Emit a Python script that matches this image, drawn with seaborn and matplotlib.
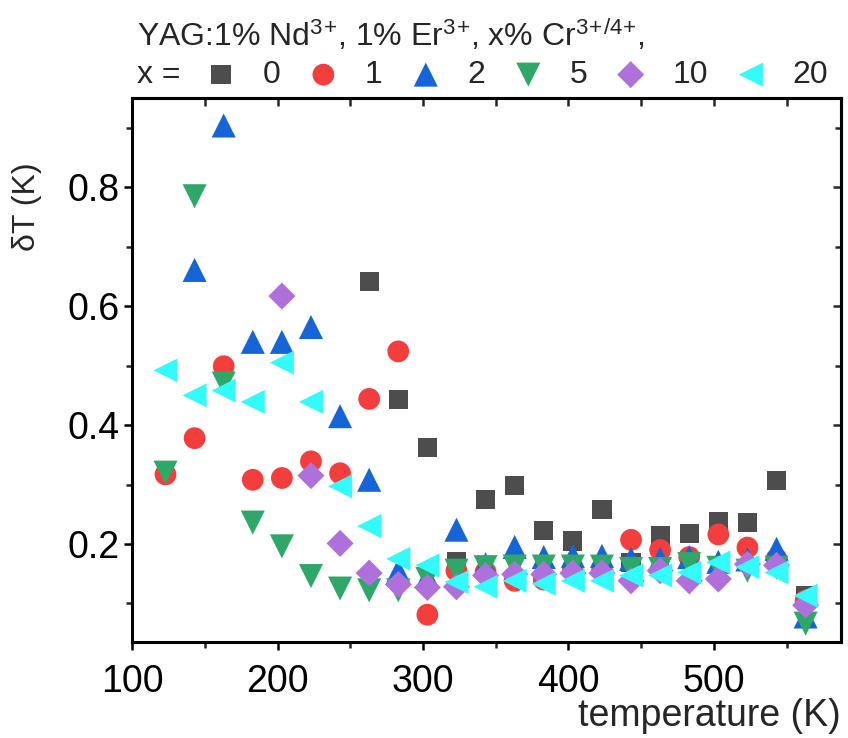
import matplotlib
matplotlib.use("Agg")
import matplotlib.pyplot as plt
from matplotlib.ticker import MultipleLocator
import seaborn as sns

# temperatures (K)
temp_all = [123, 143, 163, 183, 203, 223, 243, 263, 283, 303, 323, 343,
            363, 383, 403, 423, 443, 463, 483, 503, 523, 543, 563]
temp_0 = temp_all[7:]
temp_2 = temp_all[1:]
temp_10 = temp_all[4:]

# dT (K) per Cr content
dt_0 = [0.641, 0.443, 0.363, 0.170, 0.275, 0.299, 0.222, 0.205, 0.258, 0.169,
        0.214, 0.218, 0.237, 0.236, 0.307, 0.113]
dt_1 = [0.317, 0.378, 0.499, 0.308, 0.311, 0.339, 0.319, 0.444, 0.524, 0.081,
        0.155, 0.153, 0.138, 0.140, 0.155, 0.155, 0.207, 0.190, 0.178, 0.216,
        0.194, 0.175, 0.105]
dt_2 = [0.661, 0.904, 0.540, 0.540, 0.565, 0.415, 0.308, 0.155, 0.145, 0.224,
        0.166, 0.195, 0.178, 0.180, 0.180, 0.175, 0.175, 0.178, 0.170, 0.174,
        0.192, 0.078]
dt_5 = [0.320, 0.785, 0.470, 0.236, 0.196, 0.146, 0.125, 0.122, 0.122, 0.141,
        0.155, 0.161, 0.162, 0.162, 0.162, 0.162, 0.158, 0.158, 0.166, 0.160,
        0.155, 0.160, 0.066]
dt_10 = [0.617, 0.315, 0.201, 0.151, 0.132, 0.127, 0.128, 0.147, 0.149, 0.149,
         0.151, 0.151, 0.138, 0.155, 0.138, 0.141, 0.166, 0.164, 0.097]
dt_20 = [0.492, 0.450, 0.458, 0.439, 0.505, 0.439, 0.297, 0.230, 0.175, 0.164,
         0.136, 0.128, 0.138, 0.133, 0.138, 0.138, 0.147, 0.147, 0.152, 0.169,
         0.161, 0.152, 0.113]

labels = ["0", "1", "2", "5", "10", "20"]

sns.set_style("ticks")
plt.rcParams['font.family'] = ['Liberation Sans', 'DejaVu Sans']
plt.rcParams['mathtext.fontset'] = 'custom'
plt.rcParams['mathtext.rm'] = 'Liberation Sans'
plt.rcParams['mathtext.it'] = 'Liberation Sans'

fig = plt.figure(figsize=(8.48, 7.38), dpi=100)
ax = fig.add_axes([0.1557, 0.130, 0.8355, 0.737])

series = [
    (temp_0, dt_0, 's', '#4d4d4d', 190),
    (temp_all, dt_1, 'o', '#f43d3d', 245),
    (temp_2, dt_2, '^', '#1565d8', 300),
    (temp_all, dt_5, 'v', '#2ea868', 300),
    (temp_10, dt_10, 'D', '#b070dc', 190),
    (temp_all, dt_20, '<', '#33fbfb', 300),
]
for (tx, ty, mk, col, sz), lab in zip(series, labels):
    sns.scatterplot(x=tx, y=ty, marker=mk, color=col, s=sz, linewidth=0,
                    edgecolor='none', label=lab, ax=ax, zorder=3)

ax.set_xlim(100, 587)
ax.set_ylim(0.035, 0.95)
ax.xaxis.set_major_locator(MultipleLocator(100))
ax.xaxis.set_minor_locator(MultipleLocator(50))
ax.yaxis.set_minor_locator(MultipleLocator(0.1))
ax.set_yticks([0.2, 0.4, 0.6, 0.8])
ax.set_yticklabels(["0.2", "0.4", "0.6", "0.8"])

for sp in ax.spines.values():
    sp.set_linewidth(2.2)
    sp.set_color('black')
ax.tick_params(which='major', direction='out', length=6, width=1.8,
               labelsize=27, colors='black')
ax.tick_params(which='minor', direction='out', length=4, width=1.8)
ax.tick_params(axis='x', which='major', pad=10)
ax.tick_params(axis='y', which='major', pad=3)

top = ax.secondary_xaxis('top')
top.xaxis.set_major_locator(MultipleLocator(100))
top.xaxis.set_minor_locator(MultipleLocator(50))
top.tick_params(which='both', direction='in', length=6, width=1.8,
                labeltop=False)
top.spines['top'].set_linewidth(2.2)
right = ax.secondary_yaxis('right')
right.yaxis.set_major_locator(MultipleLocator(0.2))
right.yaxis.set_minor_locator(MultipleLocator(0.1))
right.tick_params(which='major', direction='in', length=6, width=1.8,
                  labelright=False)
right.tick_params(which='minor', direction='in', length=4, width=1.8)
right.spines['right'].set_linewidth(2.2)

ax.set_xlabel("temperature (K)", fontsize=27, loc='right', labelpad=-2)
ax.set_ylabel("δT (K)", fontsize=23)
ax.yaxis.set_label_coords(-0.127, 0.80)

fig.text(137 / 848, 1 - 35 / 738,
         "YAG:1% Nd$^{3}$$^{+}$, 1% Er$^{3}$$^{+}$, x% Cr$^{3}$$^{+}$$^{/4}$$^{+}$,",
         fontsize=23, ha='left', va='center')
fig.text(137 / 848, 1 - 75 / 738, "x =", fontsize=23, ha='left', va='center')

ax.legend(loc='center left', bbox_to_anchor=(205 / 848, 1 - 75 / 738),
          bbox_transform=fig.transFigure, ncol=6, frameon=False,
          fontsize=23, handlelength=1.0, handletextpad=0.8,
          columnspacing=0.85, borderpad=0, borderaxespad=0)

fig.savefig("out.png", dpi=100)
